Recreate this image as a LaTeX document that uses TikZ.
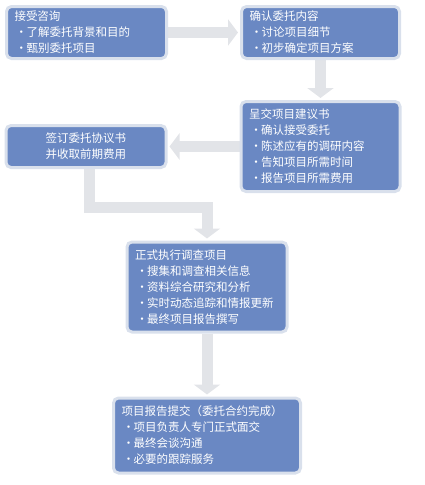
\documentclass[tikz,border=0pt]{standalone}
\usepackage{fontspec}
\newfontfamily\cjk{Noto Sans CJK SC}
\usepackage{tikz}
\usetikzlibrary{arrows.meta,positioning,backgrounds}
\definecolor{boxblue}{HTML}{6A88C3}
\definecolor{boxrim}{HTML}{D9E0EC}
\definecolor{arrgray}{HTML}{E2E4E8}
\newcommand\itm{\hspace*{7pt}\makebox[0pt][c]{·}\hspace{5pt}}

\begin{document}
\begin{tikzpicture}[
  box/.style={draw=boxrim, line width=3pt, fill=boxblue, rounded corners=5pt,
    text=white, inner xsep=8pt, inner ysep=2pt, align=left,
    font=\cjk\fontsize{11.5}{16}\selectfont},
  arr/.style={arrgray, line width=11pt, line join=miter,
    -{Triangle[width=26pt,length=10pt]}, shorten >=2pt},
  node distance=72pt]
\useasboundingbox (0,0) rectangle (425pt,-485pt);
% 委托前
\node[box, anchor=north west, text width=144pt, minimum height=52pt] (zixun) at (5pt,-5pt)
  {接受咨询\\\itm 了解委托背景和目的\\\itm 甄别委托项目};
\node[box, right=of zixun, text width=142pt, minimum height=52pt] (queren)
  {确认委托内容\\\itm 讨论项目细节\\\itm 初步确定项目方案};
\node[box, below=40pt of queren, text width=143pt, minimum height=90pt] (jianyi)
  {呈交项目建议书\\\itm 确认接受委托\\\itm 陈述应有的调研内容\\\itm 告知项目所需时间\\\itm 报告项目所需费用};
\node[box, left=of jianyi, text width=144pt, minimum height=42pt, align=center] (qianding)
  {签订委托协议书\\并收取前期费用};
% 执行与提交
\node[box, text width=144pt, minimum height=90pt] (zhixing) at (207pt,-287pt)
  {正式执行调查项目\\\itm 搜集和调查相关信息\\\itm 资料综合研究和分析\\\itm 实时动态追踪和情报更新\\\itm 最终项目报告撰写};
\node[box, below=63pt of zhixing, text width=171pt, minimum height=75pt] (tijiao)
  {项目报告提交（委托合约完成）\\\itm 项目负责人专门正式面交\\\itm 最终会谈沟通\\\itm 必要的跟踪服务};
% 箭头
\begin{scope}[on background layer]
\draw[arr] (zixun.east) -- (queren.west);
\draw[arr] (queren.south) -- (jianyi.north);
\draw[arr] (jianyi.west) -- (qianding.east);
\draw[arr] ([xshift=3pt]qianding.south) -- ++(0,-38pt) -| (zhixing.north);
\draw[arr] (zhixing.south) -- (tijiao.north);
\end{scope}
\end{tikzpicture}
\end{document}
